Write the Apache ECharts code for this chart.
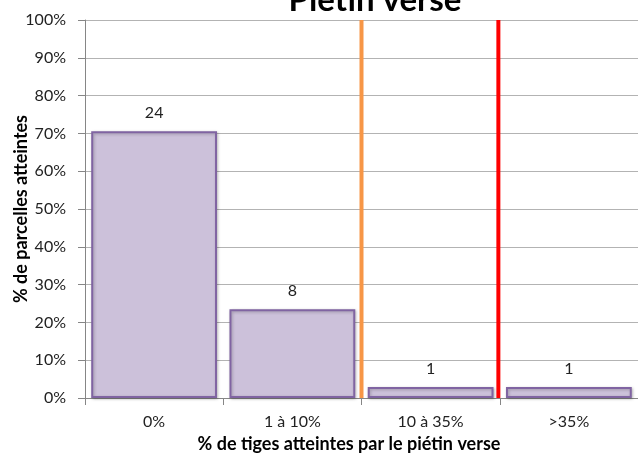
<!DOCTYPE html>
<html><head><meta charset="utf-8">
<script src="https://cdn.jsdelivr.net/npm/echarts@6/dist/echarts.min.js"></script>
<style>html,body{margin:0;padding:0;background:#fff}#c{width:638px;height:463px}</style>
</head><body><div id="c"></div>
<script>
const categories = ['0%', '1 à 10%', '10 à 35%', '>35%'];
const counts = [24, 8, 1, 1];
const percents = [70.6, 23.5, 2.9, 2.9];
const yTicks = [0, 10, 20, 30, 40, 50, 60, 70, 80, 90, 100];
const orangeX = 2.0;
const redX = 2.99;
const titleText = 'Piétin verse';
const yName = '% de parcelles atteintes';
const xName = '% de tiges atteintes par le piétin verse';

const FONT = 'Lato, "Noto Sans", sans-serif';
const chart = echarts.init(document.getElementById('c'));
chart.setOption({
  animation: false,
  graphic: [{
    type: 'text', x: 375, y: 0, z: 100,
    style: { text: titleText, textAlign: 'center', textVerticalAlign: 'middle',
      font: 'bold 33px ' + FONT, fill: '#000' }
  }],
  grid: { left: 85, top: 20, width: 553, height: 378, containLabel: false, outerBoundsMode: 'none' },
  xAxis: [{
    type: 'category', data: categories,
    axisLine: { lineStyle: { color: '#868686', width: 1 } },
    axisTick: { show: true, length: 7, lineStyle: { color: '#868686' } },
    axisLabel: { color: '#222', fontSize: 16, fontFamily: FONT, margin: 16 },
    name: xName, nameLocation: 'middle', nameGap: 37, nameMoveOverlap: false,
    nameTextStyle: { fontWeight: 'bold', fontSize: 18, color: '#000', fontFamily: FONT, padding: [0, 25, 0, 0] }
  }, {
    type: 'value', min: 0, max: 4, show: false
  }],
  yAxis: {
    type: 'value', min: 0, max: 100, interval: 10,
    axisLine: { show: true, lineStyle: { color: '#868686' } },
    axisTick: { show: true, length: 7, lineStyle: { color: '#868686' } },
    splitLine: { lineStyle: { color: '#b3b3b3', width: 1 } },
    axisLabel: { color: '#222', fontSize: 16, fontFamily: FONT, margin: 19,
      formatter: v => yTicks.includes(v) ? v + '%' : '' },
    name: yName, nameLocation: 'middle', nameGap: 55, nameRotate: 90, nameMoveOverlap: false,
    nameTextStyle: { fontWeight: 'bold', fontSize: 18, color: '#000', fontFamily: FONT }
  },
  series: [{
    type: 'bar', xAxisIndex: 0,
    data: percents.map((p, i) => ({ value: p, count: counts[i] })),
    barCategoryGap: '9%',
    itemStyle: { color: '#ccc1da', borderColor: '#8064a2', borderWidth: 2,
      shadowColor: 'rgba(0,0,0,0.25)', shadowBlur: 3, shadowOffsetX: 1, shadowOffsetY: 1 },
    label: { show: true, position: 'top', distance: 10, color: '#222', fontSize: 16, fontFamily: FONT,
      formatter: p => counts[p.dataIndex] }
  }, {
    type: 'line', xAxisIndex: 1, z: 10, symbol: 'none',
    data: [[orangeX, 0], [orangeX, 100]],
    lineStyle: { color: '#f79646', width: 4 }
  }, {
    type: 'line', xAxisIndex: 1, z: 10, symbol: 'none',
    data: [[redX, 0], [redX, 100]],
    lineStyle: { color: '#ff0000', width: 4 }
  }]
});
</script></body></html>
